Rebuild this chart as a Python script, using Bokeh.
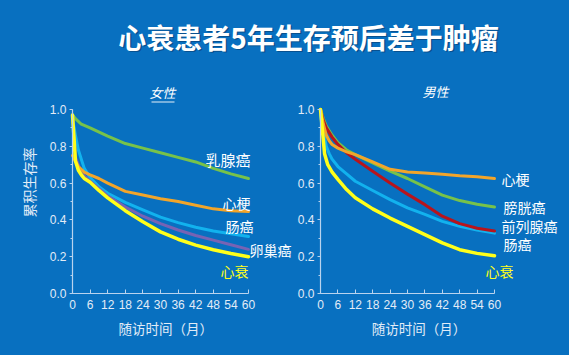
import math
from bokeh.plotting import figure
from bokeh.models import (Label, SingleIntervalTicker, FixedTicker, Range1d,
                          LinearAxis, NumeralTickFormatter, BoxAnnotation)
from bokeh.embed import file_html
from bokeh.resources import INLINE

# ---------------- data ----------------
TITLE = "心衰患者5年生存预后差于肿瘤"
X_TICKS = [0, 6, 12, 18, 24, 30, 36, 42, 48, 54, 60]
X_LABEL = "随访时间（月）"
Y_LABEL = "累积生存率"
F_TITLE = "女性"
M_TITLE = "男性"

# Female panel (女性)
f_breast_x = [0, 1, 3, 6, 12, 18, 24, 30, 36, 42, 48, 54, 60]
f_breast_y = [0.97, 0.95, 0.92, 0.90, 0.855, 0.815, 0.79, 0.765, 0.74, 0.715, 0.68, 0.65, 0.625]
f_mi_x = [0, 1, 2, 4, 6, 9, 12, 18, 24, 30, 36, 42, 48, 54, 60]
f_mi_y = [0.75, 0.72, 0.69, 0.66, 0.645, 0.625, 0.60, 0.555, 0.535, 0.515, 0.50, 0.48, 0.46, 0.45, 0.445]
f_colon_x = [0, 1, 2, 4, 6, 9, 12, 18, 24, 30, 36, 42, 48, 54, 60]
f_colon_y = [0.95, 0.86, 0.78, 0.68, 0.63, 0.58, 0.545, 0.495, 0.455, 0.415, 0.385, 0.36, 0.34, 0.325, 0.31]
f_ovary_x = [0, 0.5, 1, 3, 6, 12, 18, 24, 30, 36, 42, 48, 54, 60]
f_ovary_y = [0.97, 0.85, 0.74, 0.655, 0.61, 0.53, 0.47, 0.42, 0.38, 0.345, 0.315, 0.29, 0.265, 0.24]
f_hf_x = [0, 0.5, 1, 2, 3, 4, 6, 9, 12, 18, 24, 30, 36, 42, 48, 54, 60]
f_hf_y = [0.97, 0.85, 0.72, 0.67, 0.645, 0.625, 0.605, 0.56, 0.52, 0.45, 0.39, 0.335, 0.295, 0.263, 0.238, 0.217, 0.20]

# Male panel (男性)
m_mi_x = [0, 1, 2, 3, 4, 6, 9, 12, 18, 24, 30, 36, 42, 48, 54, 60]
m_mi_y = [1.0, 0.92, 0.86, 0.83, 0.81, 0.79, 0.77, 0.755, 0.715, 0.675, 0.66, 0.655, 0.648, 0.64, 0.635, 0.625]
m_bladder_x = [0, 1, 2, 4, 6, 9, 12, 18, 24, 30, 36, 42, 48, 54, 60]
m_bladder_y = [1.0, 0.95, 0.91, 0.86, 0.82, 0.78, 0.755, 0.71, 0.665, 0.625, 0.58, 0.535, 0.505, 0.485, 0.47]
m_prostate_x = [0, 1, 2, 4, 6, 9, 12, 18, 24, 30, 36, 42, 48, 54, 60]
m_prostate_y = [1.0, 0.94, 0.90, 0.85, 0.81, 0.765, 0.73, 0.665, 0.60, 0.54, 0.483, 0.42, 0.38, 0.355, 0.34]
m_colon_x = [0, 1, 2, 3, 4, 6, 9, 12, 18, 24, 30, 36, 42, 48, 54, 60]
m_colon_y = [0.97, 0.88, 0.80, 0.76, 0.73, 0.69, 0.65, 0.61, 0.56, 0.51, 0.465, 0.43, 0.392, 0.365, 0.345, 0.328]
m_hf_x = [0, 0.7, 1.4, 2.5, 4, 6, 9, 12, 18, 24, 30, 36, 42, 48, 54, 60]
m_hf_y = [1.0, 0.88, 0.76, 0.70, 0.66, 0.62, 0.565, 0.52, 0.46, 0.41, 0.365, 0.32, 0.275, 0.238, 0.218, 0.205]

# curve labels: (text, x, y, align, colour key, font px)
f_labels = [("乳腺癌", 45.3, 0.73, "left", "white", 15),
            ("心梗", 60.7, 0.49, "right", "white", 14),
            ("肠癌", 61.7, 0.365, "right", "white", 14),
            ("卵巢癌", 60.3, 0.235, "left", "white", 14),
            ("心衰", 60.0, 0.125, "right", "yellow", 14)]
m_labels = [("心梗", 62.4, 0.62, "left", "white", 14),
            ("膀胱癌", 63.1, 0.47, "left", "white", 14),
            ("前列腺癌", 62.4, 0.365, "left", "white", 14),
            ("肠癌", 63.1, 0.27, "left", "white", 14),
            ("心衰", 56.9, 0.125, "left", "yellow", 14)]

# ---------------- style ----------------
BG = "#0870C0"
AXIS = "#B9D3EE"
TICKTXT = "#E2ECF7"
GREEN = "#77C24A"
ORANGE = "#F2A52A"
CYAN = "#12B2EE"
PURPLE = "#7763B4"
YELLOW = "#FFFF1A"
RED = "#B8141C"
CJK = "Noto Sans CJK SC"
COLORS = {"white": "#FFFFFF", "yellow": YELLOW}

W, H = 561, 347

# Panel placement (canvas pixels): female axis 0..60 -> 72..248, male 0..60 -> 320..494
# shared y: 0 -> 293 from top, 1 -> 109 from top
fx0, fpx = 72.0, 176.0 / 60
mx0, mpx = 320.0, 174.0 / 60
y0_top, ypx = 293.0, 184.0

p = figure(width=W, height=H, output_backend="svg", toolbar_location=None,
           x_range=Range1d(-fx0 / fpx, (W - fx0) / fpx),
           y_range=Range1d(-(H - y0_top) / ypx, y0_top / ypx),
           min_border=0)
p.extra_x_ranges = {"m": Range1d(-mx0 / mpx, (W - mx0) / mpx)}
p.background_fill_color = BG
p.border_fill_color = BG
p.outline_line_color = None
p.grid.visible = False


def common(ax):
    ax.axis_line_color = AXIS
    ax.axis_line_width = 1.2
    ax.major_tick_line_color = AXIS
    ax.minor_tick_line_color = AXIS
    ax.major_label_text_color = TICKTXT
    ax.major_label_text_font = "Liberation Sans"
    ax.major_label_text_font_size = "12px"


def style_x(ax):
    ax.ticker = FixedTicker(ticks=X_TICKS, minor_ticks=[])
    ax.fixed_location = 0
    ax.bounds = (0, 60)
    ax.major_tick_in = 4
    ax.major_tick_out = 0
    ax.minor_tick_in = 0
    ax.minor_tick_out = 0
    ax.major_label_standoff = 6
    common(ax)


def style_y(ax):
    ax.ticker = SingleIntervalTicker(interval=0.2, num_minor_ticks=2)
    ax.fixed_location = 0
    ax.bounds = (0, 1)
    ax.major_tick_in = 0
    ax.major_tick_out = 3
    ax.minor_tick_in = 0
    ax.minor_tick_out = 2
    ax.major_label_standoff = 3
    ax.formatter = NumeralTickFormatter(format="0.0")
    common(ax)


style_x(p.xaxis[0])
style_y(p.yaxis[0])
mx_axis = LinearAxis(x_range_name="m")
my_axis = LinearAxis(x_range_name="m")
style_x(mx_axis)
style_y(my_axis)
p.add_layout(mx_axis, "below")
p.add_layout(my_axis, "left")

female = [(f_breast_x, f_breast_y, GREEN, 3),
          (f_colon_x, f_colon_y, CYAN, 3),
          (f_ovary_x, f_ovary_y, PURPLE, 3),
          (f_mi_x, f_mi_y, ORANGE, 3),
          (f_hf_x, f_hf_y, YELLOW, 3.5)]
male = [(m_colon_x, m_colon_y, CYAN, 3),
        (m_bladder_x, m_bladder_y, GREEN, 3),
        (m_prostate_x, m_prostate_y, RED, 3),
        (m_mi_x, m_mi_y, ORANGE, 3),
        (m_hf_x, m_hf_y, YELLOW, 3.5)]

for series, rn in ((female, "default"), (male, "m")):
    for xs, ys, c, lw in series:
        p.line(xs, ys, line_color=c, line_width=lw, line_join="round",
               line_cap="round", x_range_name=rn)

for labels, rn in ((f_labels, "default"), (m_labels, "m")):
    for t, x, y, al, ck, fs in labels:
        p.add_layout(Label(x=x, y=y, text=t, text_align=al, text_baseline="middle",
                           x_range_name=rn,
                           text_font=CJK, text_font_size=f"{fs}px",
                           text_color=COLORS[ck]))

# x-axis titles
for xc, rn in ((31.8, "default"), (34.0, "m")):
    p.add_layout(Label(x=xc, y=H - 327, y_units="screen", x_range_name=rn,
                       text=X_LABEL, text_align="center", text_baseline="middle",
                       text_font=CJK, text_font_size="13.5px", text_color=TICKTXT))

# panel subtitles
p.add_layout(Label(x=162, y=H - 92, x_units="screen", y_units="screen",
                   text=F_TITLE, text_align="center", text_baseline="middle",
                   text_font=CJK, text_font_size="13px", text_font_style="italic",
                   text_color="#FFFFFF"))
p.add_layout(BoxAnnotation(left=151, right=174, bottom=H - 102, top=H - 101,
                           left_units="screen", right_units="screen",
                           bottom_units="screen", top_units="screen",
                           fill_color="#FFFFFF", fill_alpha=0.9, line_color=None))
p.add_layout(Label(x=435, y=H - 91, x_units="screen", y_units="screen",
                   text=M_TITLE, text_align="center", text_baseline="middle",
                   text_font=CJK, text_font_size="13px", text_font_style="italic",
                   text_color="#FFFFFF"))

# y-axis title
p.add_layout(Label(x=28, y=H - 182, x_units="screen", y_units="screen",
                   text=Y_LABEL, angle=math.pi / 2, text_align="center",
                   text_baseline="middle", text_font=CJK,
                   text_font_size="14px", text_color=TICKTXT))

# main title (with soft shadow)
p.add_layout(Label(x=309.5, y=H - 37.5, x_units="screen", y_units="screen", text=TITLE,
                   text_align="center", text_baseline="middle", text_font=CJK,
                   text_font_size="28px", text_font_style="bold",
                   text_color="#0A3C6E", text_alpha=0.6))
p.add_layout(Label(x=308, y=H - 36, x_units="screen", y_units="screen", text=TITLE,
                   text_align="center", text_baseline="middle", text_font=CJK,
                   text_font_size="28px", text_font_style="bold",
                   text_color="#FFFFFF"))

html = file_html(p, INLINE, title="心衰患者5年生存预后")
html = html.replace("</head>",
                    f"<style>html,body{{background-color:{BG} !important;}}</style></head>", 1)
open("out.html", "w").write(html)
